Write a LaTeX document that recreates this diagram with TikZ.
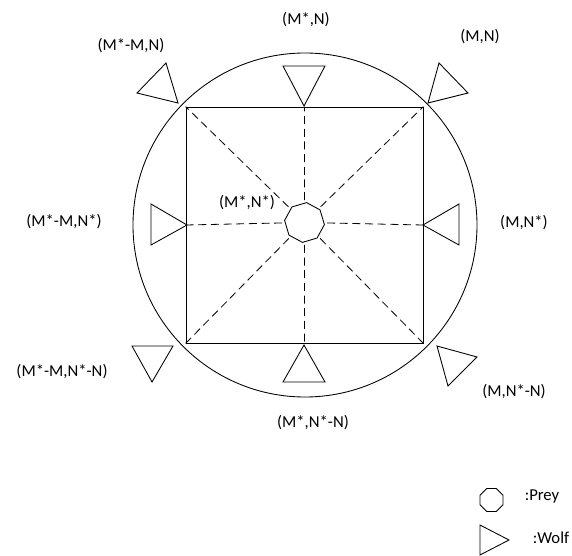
\documentclass[tikz,border=0pt]{standalone}
\usepackage{fontspec}
\setmainfont{Carlito}
\usetikzlibrary{shapes.geometric}
\begin{document}
\begin{tikzpicture}[x=0.75pt,y=-0.75pt,
  outline/.style={draw, line width=0.65pt, inner sep=0},
  lbl/.style={font=\fontsize{12.5}{15}\selectfont, inner sep=0},
  wolf/.style={draw, line width=0.65pt, line join=miter},
  link/.style={line width=0.6pt, dash pattern=on 6pt off 3.5pt, shorten <=2pt},
  prey/.style={outline, regular polygon, regular polygon sides=8}
]
\useasboundingbox (0,0) rectangle (572,556);

% boundary circle and the square of positions
\node[outline, circle, minimum size=258pt] (ring) at (305,225) {};
\node[outline, rectangle, minimum width=177.75pt, minimum height=177pt] (sq) at (304.5,225) {};

% the prey at the centre
\node[prey, minimum size=30pt, rotate=16.5] (prey) at (304.5,222.5) {};

% dashed links from the prey to the eight positions
\foreach \a in {north west,north,north east,east,south east,south,south west,west}
  \draw[link] (prey) -- (sq.\a);

% wolves
\path[wolf] (178,103) -- (166,63) -- (137,93) -- cycle;
\path[wolf] (304,106) -- (283,66) -- (325,66) -- cycle;
\path[wolf] (428,103) -- (439,63) -- (468,93) -- cycle;
\path[wolf] (187,225) -- (151,204) -- (151,245) -- cycle;
\path[wolf] (423,225) -- (459,204) -- (459,245) -- cycle;
\path[wolf] (132,346) -- (173,346) -- (152,382) -- cycle;
\path[wolf] (304,345) -- (283,382) -- (325,382) -- cycle;
\path[wolf] (437,346) -- (477,357) -- (448,386) -- cycle;

% position labels
\node[lbl] (l1) at (131,46) {(M*-M,N)};
\node[lbl] (l2) at (306,20) {(M*,N)};
\node[lbl] (l3) at (480,37) {(M,N)};
\node[lbl] (l4) at (64,222) {(M*-M,N*)};
\node[lbl] (l5) at (247,203) {(M*,N*)};
\node[lbl] (l6) at (524,223) {(M,N*)};
\node[lbl] (l7) at (62,372) {(M*-M,N*-N)};
\node[lbl] (l8) at (514,392) {(M,N*-N)};
\node[lbl] (l9) at (313,423) {(M*,N*-N)};

% legend
\node[prey, minimum size=18.75pt] (legprey) at (491.5,500) {};
\node[lbl] (legpreytext) at (542,496) {:Prey};
\path[wolf] (480,525) -- (509,540) -- (480,555) -- cycle;
\node[lbl] (legwolftext) at (551,538) {:Wolf};
\end{tikzpicture}
\end{document}
